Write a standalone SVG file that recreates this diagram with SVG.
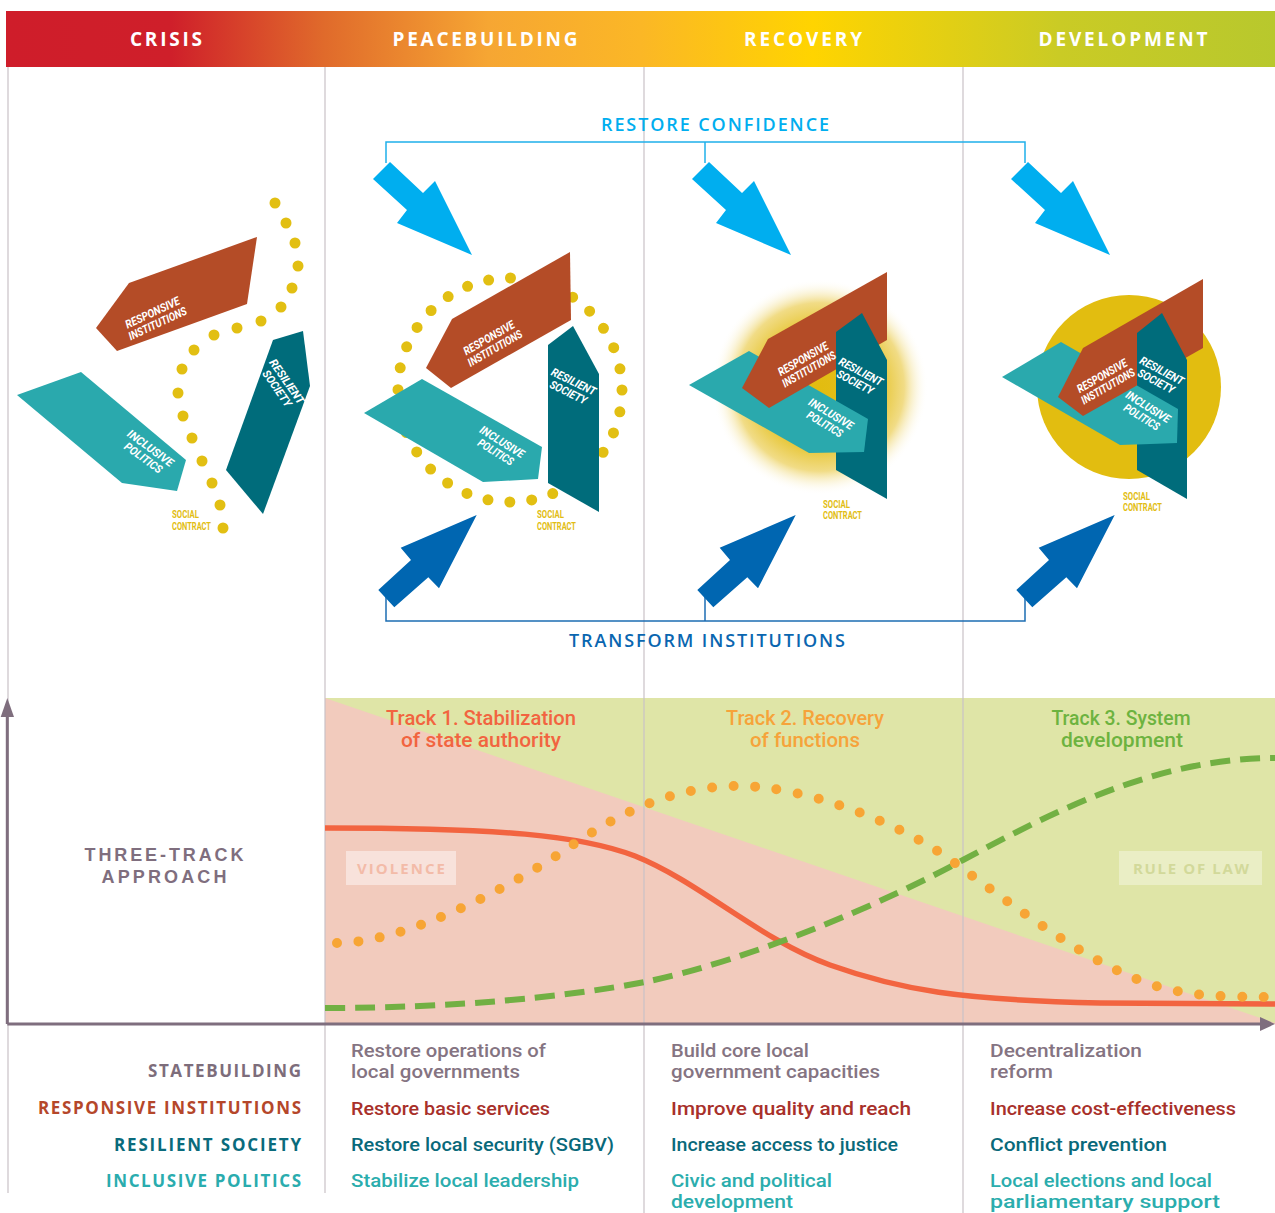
<svg xmlns="http://www.w3.org/2000/svg" width="1275" height="1213" viewBox="0 0 1275 1213">
<style>
.grid{stroke:#c9c1c6;stroke-width:1.2;fill:none}
.ri{fill:#b44c27}
.rs{fill:#006c7b}
.ip{fill:#2aa9ad}
.dot{fill:#e2bf12}
.lbl{font-family:Roboto,"Liberation Sans",sans-serif;font-weight:700;font-style:italic;font-size:11.5px;fill:#ffffff;text-anchor:middle}
.sc{font-family:Roboto,"Liberation Sans",sans-serif;font-weight:700;font-size:10px;fill:#e2bd12}
.hdr{font-family:"Open Sans","Liberation Sans",sans-serif;font-weight:700;font-size:19px;fill:#ffffff;text-anchor:middle}
.brk{font-family:"Open Sans","Liberation Sans",sans-serif;font-weight:600;font-size:18px;text-anchor:start}
.track{font-family:Roboto,"Liberation Sans",sans-serif;font-weight:500;font-size:19.5px;text-anchor:middle}
.row{font-family:"Open Sans","Liberation Sans",sans-serif;font-weight:700;font-size:17px;text-anchor:end}
.cell{font-family:Roboto,"Liberation Sans",sans-serif;font-weight:500;font-size:18.5px}
.c0{fill:#857482}
.c1{fill:#a8302a}
.c2{fill:#09697a}
.c3{fill:#2badad}
.axis{stroke:#7f6e7e;stroke-width:3;fill:none}
</style>
<defs>
<linearGradient id="hdrGrad" gradientUnits="userSpaceOnUse" x1="6" y1="0" x2="1275" y2="0">
<stop offset="0" stop-color="#cf1d2a"/>
<stop offset="0.13" stop-color="#cf1f2a"/>
<stop offset="0.25" stop-color="#e06a2b"/>
<stop offset="0.38" stop-color="#f6a633"/>
<stop offset="0.5" stop-color="#fbb726"/>
<stop offset="0.636" stop-color="#ffd400"/>
<stop offset="0.83" stop-color="#cacb25"/>
<stop offset="1" stop-color="#b8c82d"/>
</linearGradient>
<radialGradient id="glow" gradientUnits="userSpaceOnUse" cx="820" cy="387" r="108">
<stop offset="0" stop-color="#e2bc10"/>
<stop offset="0.5" stop-color="#e4c020"/>
<stop offset="0.78" stop-color="#f1dc86"/>
<stop offset="1" stop-color="#ffffff" stop-opacity="0"/>
</radialGradient>
<polygon id="arrDown" points="373,179 390,162 423,193 435,181 472,255 397,223 407,210"/>
<polygon id="arrUp" points="476.7,515 439,588.3 428.3,577.3 394.3,607.3 378.3,590 411,560 400.7,547.7"/>
</defs>

<rect x="0" y="0" width="1275" height="1213" fill="#ffffff"/>

<!-- chart background -->
<g id="chart-bg">
<rect x="325" y="698" width="950" height="326" fill="#f2cbbd"/>
<polygon points="325,698 1275,698 1275,1023" fill="#dfe5a7"/>
<rect x="346" y="851" width="110" height="34" fill="#ffffff" fill-opacity="0.45"/>
<text x="401" y="874" font-family="'Open Sans','Liberation Sans',sans-serif" font-weight="700" font-size="15" fill="#f3bba8" text-anchor="middle" textLength="88">VIOLENCE</text>
<rect x="1119" y="851" width="143" height="34" fill="#ffffff" fill-opacity="0.35"/>
<text x="1191" y="874" font-family="'Open Sans','Liberation Sans',sans-serif" font-weight="700" font-size="15" fill="#d2d99a" text-anchor="middle" textLength="116">RULE OF LAW</text>
</g>

<!-- grid lines -->
<g id="grid">
<line class="grid" x1="8" y1="67" x2="8" y2="1193"/>
<line class="grid" x1="325" y1="67" x2="325" y2="1193"/>
<line class="grid" x1="644" y1="67" x2="644" y2="1213"/>
<line class="grid" x1="963" y1="67" x2="963" y2="1213"/>
</g>

<!-- header -->
<g id="header">
<rect x="6" y="11" width="1269" height="56" fill="url(#hdrGrad)"/>
<text class="hdr" x="166" y="46" textLength="72">CRISIS</text>
<text class="hdr" x="485" y="46" textLength="185">PEACEBUILDING</text>
<text class="hdr" x="803" y="46" textLength="118">RECOVERY</text>
<text class="hdr" x="1123" y="46" textLength="169">DEVELOPMENT</text>
</g>

<!-- crisis cluster -->
<g id="node-crisis">
<circle class="dot" cx="275" cy="203" r="5.5"/>
<circle class="dot" cx="286" cy="223" r="5.5"/>
<circle class="dot" cx="295" cy="243" r="5.5"/>
<circle class="dot" cx="298" cy="266" r="5.5"/>
<circle class="dot" cx="292" cy="288" r="5.5"/>
<circle class="dot" cx="281" cy="307" r="5.5"/>
<circle class="dot" cx="261" cy="321" r="5.5"/>
<circle class="dot" cx="237" cy="328" r="5.5"/>
<circle class="dot" cx="214" cy="335" r="5.5"/>
<circle class="dot" cx="194" cy="350" r="5.5"/>
<circle class="dot" cx="182" cy="369" r="5.5"/>
<circle class="dot" cx="178" cy="393" r="5.5"/>
<circle class="dot" cx="183" cy="416" r="5.5"/>
<circle class="dot" cx="192" cy="438" r="5.5"/>
<circle class="dot" cx="202" cy="461" r="5.5"/>
<circle class="dot" cx="212" cy="483" r="5.5"/>
<circle class="dot" cx="220" cy="505" r="5.5"/>
<circle class="dot" cx="223" cy="528" r="5.5"/>
<polygon class="ri" points="96,328 129,283 257,237 247,304 117,351"/>
<polygon class="rs" points="273,340 303,331 310,386 263,514 226,470"/>
<polygon class="ip" points="17,395 81,372 186,460 177,491 122,483"/>
<g transform="translate(155,318) rotate(-25)">
<text class="lbl" y="-2" textLength="59" lengthAdjust="spacingAndGlyphs">RESPONSIVE</text>
<text class="lbl" y="10" textLength="63" lengthAdjust="spacingAndGlyphs">INSTITUTIONS</text>
</g>
<g transform="translate(282,385) rotate(55)">
<text class="lbl" y="-2" textLength="52" lengthAdjust="spacingAndGlyphs">RESILIENT</text>
<text class="lbl" y="10" textLength="42" lengthAdjust="spacingAndGlyphs">SOCIETY</text>
</g>
<g transform="translate(147,453) rotate(36)">
<text class="lbl" y="-2" textLength="54" lengthAdjust="spacingAndGlyphs">INCLUSIVE</text>
<text class="lbl" y="10" textLength="44" lengthAdjust="spacingAndGlyphs">POLITICS</text>
</g>
<text class="sc" x="172" y="518" textLength="27" lengthAdjust="spacingAndGlyphs">SOCIAL</text>
<text class="sc" x="172" y="530" textLength="39" lengthAdjust="spacingAndGlyphs">CONTRACT</text>
</g>

<!-- peacebuilding cluster -->
<g id="node-peacebuilding">
<circle cx="510" cy="390" r="112" fill="none" stroke="#e2bf12" stroke-width="11" stroke-linecap="round" stroke-dasharray="0 21.99"/>
<polygon class="ri" points="426,368 452,319 570,252 571,320 451,388"/>
<polygon class="rs" points="548,345 573,326 599,374 599,512 548,483"/>
<polygon class="ip" points="364,413 422,379 542,447 538,479 483,482"/>
<g transform="translate(492,343) rotate(-30)">
<text class="lbl" y="-2" textLength="57" lengthAdjust="spacingAndGlyphs">RESPONSIVE</text>
<text class="lbl" y="10" textLength="61" lengthAdjust="spacingAndGlyphs">INSTITUTIONS</text>
</g>
<g transform="translate(571,387) rotate(26)">
<text class="lbl" y="-2" textLength="48" lengthAdjust="spacingAndGlyphs">RESILIENT</text>
<text class="lbl" y="10" textLength="40" lengthAdjust="spacingAndGlyphs">SOCIETY</text>
</g>
<g transform="translate(499,447) rotate(32)">
<text class="lbl" y="-2" textLength="50" lengthAdjust="spacingAndGlyphs">INCLUSIVE</text>
<text class="lbl" y="10" textLength="40" lengthAdjust="spacingAndGlyphs">POLITICS</text>
</g>
<text class="sc" x="537" y="518" textLength="27" lengthAdjust="spacingAndGlyphs">SOCIAL</text>
<text class="sc" x="537" y="530" textLength="39" lengthAdjust="spacingAndGlyphs">CONTRACT</text>
</g>

<!-- recovery cluster -->
<g id="node-recovery">
<circle cx="820" cy="387" r="108" fill="url(#glow)"/>
<polygon class="ip" points="689,385 749,351 868,419 864,452 809,453"/>
<polygon class="ri" points="742,388 768,339 887,272 887,340 769,408"/>
<polygon class="rs" points="836,332 862,313 887,360 887,499 836,470"/>
<polygon class="ip" points="836,400.7 868,419 864,452 836,452.5"/>
<g transform="translate(806,364) rotate(-30)">
<text class="lbl" y="-2" textLength="56" lengthAdjust="spacingAndGlyphs">RESPONSIVE</text>
<text class="lbl" y="10" textLength="60" lengthAdjust="spacingAndGlyphs">INSTITUTIONS</text>
</g>
<g transform="translate(858,377) rotate(28)">
<text class="lbl" y="-2" textLength="48" lengthAdjust="spacingAndGlyphs">RESILIENT</text>
<text class="lbl" y="10" textLength="40" lengthAdjust="spacingAndGlyphs">SOCIETY</text>
</g>
<g transform="translate(828,419) rotate(31)">
<text class="lbl" y="-2" textLength="50" lengthAdjust="spacingAndGlyphs">INCLUSIVE</text>
<text class="lbl" y="10" textLength="40" lengthAdjust="spacingAndGlyphs">POLITICS</text>
</g>
<text class="sc" x="823" y="508" textLength="27" lengthAdjust="spacingAndGlyphs">SOCIAL</text>
<text class="sc" x="823" y="519" textLength="39" lengthAdjust="spacingAndGlyphs">CONTRACT</text>
</g>

<!-- development cluster -->
<g id="node-development">
<circle cx="1129" cy="387" r="92" fill="#e2bd10"/>
<polygon class="ip" points="1002,377 1061,342 1178,409 1177,443 1120,445"/>
<polygon class="ri" points="1058,397 1083,348 1203,279 1203,348 1083,416"/>
<polygon class="rs" points="1137,333 1162,313 1187,360 1187,499 1137,470"/>
<polygon class="ip" points="1137,385.5 1178,409 1177,443 1137,444.4"/>
<g transform="translate(1105,381) rotate(-30)">
<text class="lbl" y="-2" textLength="56" lengthAdjust="spacingAndGlyphs">RESPONSIVE</text>
<text class="lbl" y="10" textLength="60" lengthAdjust="spacingAndGlyphs">INSTITUTIONS</text>
</g>
<g transform="translate(1159,376) rotate(28)">
<text class="lbl" y="-2" textLength="48" lengthAdjust="spacingAndGlyphs">RESILIENT</text>
<text class="lbl" y="10" textLength="40" lengthAdjust="spacingAndGlyphs">SOCIETY</text>
</g>
<g transform="translate(1145,412) rotate(32)">
<text class="lbl" y="-2" textLength="50" lengthAdjust="spacingAndGlyphs">INCLUSIVE</text>
<text class="lbl" y="10" textLength="40" lengthAdjust="spacingAndGlyphs">POLITICS</text>
</g>
<text class="sc" x="1123" y="500" textLength="27" lengthAdjust="spacingAndGlyphs">SOCIAL</text>
<text class="sc" x="1123" y="511" textLength="39" lengthAdjust="spacingAndGlyphs">CONTRACT</text>
</g>

<!-- connectors: brackets and arrows -->
<g id="connectors">
<polyline points="386,163 386,142 1025,142 1025,163" fill="none" stroke="#1fb0ea" stroke-width="1.5"/>
<line x1="705" y1="142" x2="705" y2="163" stroke="#1fb0ea" stroke-width="1.5"/>
<polyline points="386,597 386,621 1025,621 1025,597" fill="none" stroke="#1c6db3" stroke-width="1.5"/>
<line x1="705" y1="597" x2="705" y2="621" stroke="#1c6db3" stroke-width="1.5"/>
<use href="#arrDown" fill="#00aeef"/>
<use href="#arrDown" fill="#00aeef" transform="translate(319,0)"/>
<use href="#arrDown" fill="#00aeef" transform="translate(638,0)"/>
<use href="#arrUp" fill="#0066b1"/>
<use href="#arrUp" fill="#0066b1" transform="translate(319,0)"/>
<use href="#arrUp" fill="#0066b1" transform="translate(638,0)"/>
</g>
<text class="brk" x="601" y="131" fill="#00aeef" textLength="228">RESTORE CONFIDENCE</text>
<text class="brk" x="569" y="647" fill="#0a66b0" textLength="276">TRANSFORM INSTITUTIONS</text>

<!-- chart curves -->
<g id="chart-curves">
<path d="M325,828 C500,828 580,835 635,856 C700,882 760,940 830,965 C900,990 960,1000 1100,1003 L1275,1004" fill="none" stroke="#f26440" stroke-width="5.5"/>
<path d="M325,1008 C450,1008 560,998 645,982 C750,960 880,905 963,860 C1060,808 1160,758 1275,758" fill="none" stroke="#72b043" stroke-width="6" stroke-dasharray="20 10"/>
<path d="M337,943 C400,943 500,895 577,842 C640,800 690,786 740,786 C800,786 900,820 960,867 C1020,910 1090,965 1153,985 C1190,997 1230,997 1275,997" fill="none" stroke="#f7a535" stroke-width="10" stroke-linecap="round" stroke-dasharray="0 21.6"/>
</g>

<!-- axes -->
<g id="axes">
<line class="axis" x1="7.3" y1="1024" x2="7.3" y2="712"/>
<polygon points="0.7,717 7.3,698 14,717" fill="#7f6e7e"/>
<line class="axis" x1="7.3" y1="1024" x2="1264" y2="1024"/>
<polygon points="1260,1017 1275,1024 1260,1031" fill="#7f6e7e"/>
</g>

<!-- track titles -->
<g id="track-titles">
<text class="track" x="481" y="725" fill="#f26440" textLength="190" lengthAdjust="spacingAndGlyphs">Track 1. Stabilization</text>
<text class="track" x="481" y="747" fill="#f26440" textLength="160" lengthAdjust="spacingAndGlyphs">of state authority</text>
<text class="track" x="805" y="725" fill="#f6a33a" textLength="158" lengthAdjust="spacingAndGlyphs">Track 2. Recovery</text>
<text class="track" x="805" y="747" fill="#f6a33a" textLength="110" lengthAdjust="spacingAndGlyphs">of functions</text>
<text class="track" x="1121" y="725" fill="#6db33f" textLength="139" lengthAdjust="spacingAndGlyphs">Track 3. System</text>
<text class="track" x="1122" y="747" fill="#6db33f" textLength="122" lengthAdjust="spacingAndGlyphs">development</text>
</g>

<text x="164" y="861" font-family="'Liberation Sans',Arial,sans-serif" font-weight="700" font-size="18" fill="#7f6e7e" text-anchor="middle" textLength="159">THREE-TRACK</text>
<text x="164" y="883" font-family="'Liberation Sans',Arial,sans-serif" font-weight="700" font-size="18" fill="#7f6e7e" text-anchor="middle" textLength="125">APPROACH</text>

<!-- bottom table -->
<g id="row-labels">
<text class="row" x="301" y="1077" fill="#7d6d7b" textLength="153">STATEBUILDING</text>
<text class="row" x="301" y="1114" fill="#b5472a" textLength="263">RESPONSIVE INSTITUTIONS</text>
<text class="row" x="301" y="1151" fill="#0a6b7c" textLength="187">RESILIENT SOCIETY</text>
<text class="row" x="301" y="1187" fill="#2aacae" textLength="195">INCLUSIVE POLITICS</text>
</g>
<g id="cells">
<text class="cell c0" x="351" y="1057" textLength="195" lengthAdjust="spacingAndGlyphs">Restore operations of</text>
<text class="cell c0" x="351" y="1078" textLength="169" lengthAdjust="spacingAndGlyphs">local governments</text>
<text class="cell c1" x="351" y="1115" textLength="199" lengthAdjust="spacingAndGlyphs">Restore basic services</text>
<text class="cell c2" x="351" y="1151" textLength="263" lengthAdjust="spacingAndGlyphs">Restore local security (SGBV)</text>
<text class="cell c3" x="351" y="1187" textLength="228" lengthAdjust="spacingAndGlyphs">Stabilize local leadership</text>

<text class="cell c0" x="671" y="1057" textLength="138" lengthAdjust="spacingAndGlyphs">Build core local</text>
<text class="cell c0" x="671" y="1078" textLength="209" lengthAdjust="spacingAndGlyphs">government capacities</text>
<text class="cell c1" x="671" y="1115" textLength="240" lengthAdjust="spacingAndGlyphs">Improve quality and reach</text>
<text class="cell c2" x="671" y="1151" textLength="227" lengthAdjust="spacingAndGlyphs">Increase access to justice</text>
<text class="cell c3" x="671" y="1187" textLength="161" lengthAdjust="spacingAndGlyphs">Civic and political</text>
<text class="cell c3" x="671" y="1208" textLength="122" lengthAdjust="spacingAndGlyphs">development</text>

<text class="cell c0" x="990" y="1057" textLength="152" lengthAdjust="spacingAndGlyphs">Decentralization</text>
<text class="cell c0" x="990" y="1078" textLength="63" lengthAdjust="spacingAndGlyphs">reform</text>
<text class="cell c1" x="990" y="1115" textLength="246" lengthAdjust="spacingAndGlyphs">Increase cost-effectiveness</text>
<text class="cell c2" x="990" y="1151" textLength="177" lengthAdjust="spacingAndGlyphs">Conflict prevention</text>
<text class="cell c3" x="990" y="1187" textLength="222" lengthAdjust="spacingAndGlyphs">Local elections and local</text>
<text class="cell c3" x="990" y="1208" textLength="230" lengthAdjust="spacingAndGlyphs">parliamentary support</text>
</g>
</svg>
